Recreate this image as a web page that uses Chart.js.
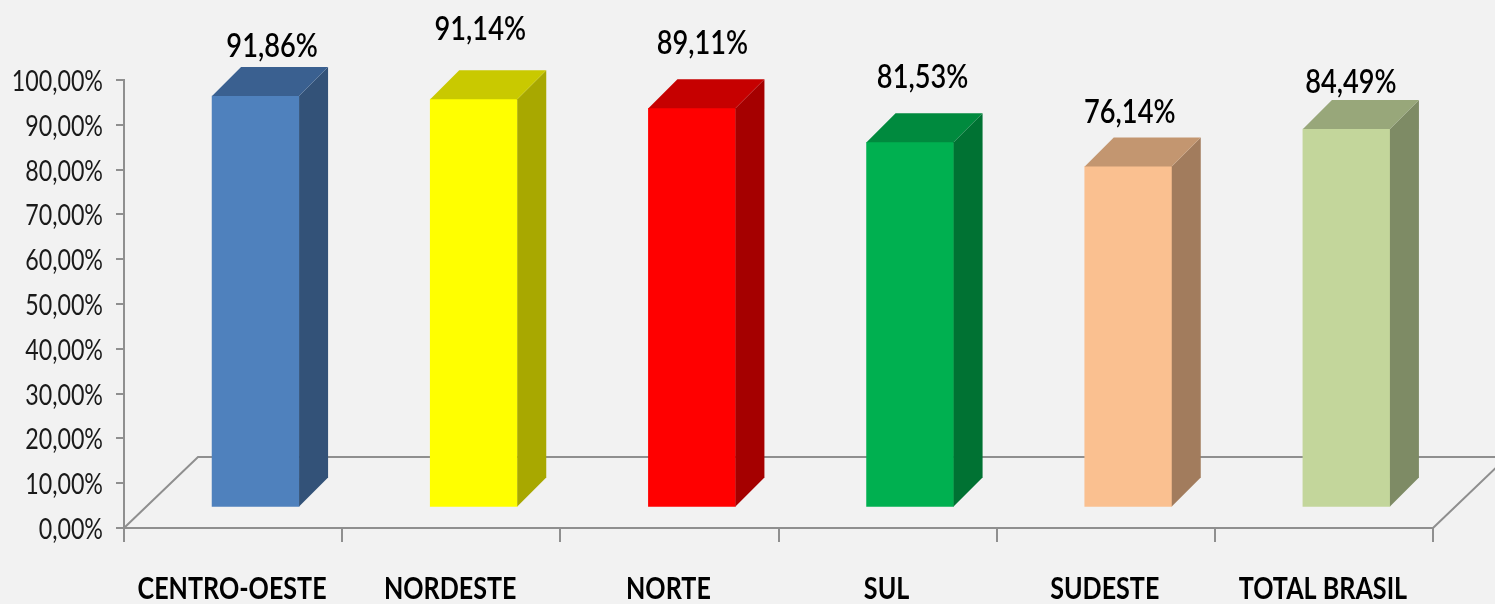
<!DOCTYPE html>
<html>
<head>
<meta charset="utf-8">
<style>
html, body { margin: 0; padding: 0; background: #f2f2f2; overflow: hidden; }
#wrap { position: relative; width: 1495px; height: 604px; }
canvas { filter: blur(0.5px); }
</style>
<script src="https://cdn.jsdelivr.net/npm/chart.js@4"></script>
</head>
<body>
<div id="wrap"><canvas id="chart" width="1495" height="604"></canvas></div>
<script>
const categories = ['CENTRO-OESTE', 'NORDESTE', 'NORTE', 'SUL', 'SUDESTE', 'TOTAL BRASIL'];
const values = [91.86, 91.14, 89.11, 81.53, 76.14, 84.49];
const frontColors = ['#4f81bd', '#ffff00', '#ff0000', '#00b050', '#fac090', '#c3d69b'];
const sideColors = ['#335278', '#a8a800', '#a50000', '#007233', '#a27c5d', '#7e8b65'];
const topColors = ['#3a6090', '#c9c900', '#c60000', '#008a3e', '#c39670', '#98a77a'];

const axisGrey = '#8f8f8f';
// profundidade do efeito 3D
const depth = 29;
// a frente das barras fica deslocada em relacao aos eixos
const frontDx = 22.5;
const frontDy = -20.5;
const floorDx = 74;
const floorDy = -71;
// ajuste manual dos rotulos de valor (nao seguem o topo da barra no original)
const labelNudgeX = [2, -8, -4, -2, -13, -10];
const labelNudgeY = [-20, -41, -36, -36, -25, -17];

function fmt(v) {
    return v.toFixed(2).replace('.', ',') + '%';
}

function poly(ctx, pts, color) {
    ctx.fillStyle = color;
    ctx.beginPath();
    pts.forEach((p, i) => i ? ctx.lineTo(p[0], p[1]) : ctx.moveTo(p[0], p[1]));
    ctx.closePath();
    ctx.fill();
}

// texto mais estreito que a fonte: Calibri esticada no original
function narrowText(ctx, text, x, y, sx, align) {
    ctx.save();
    ctx.translate(x, y);
    ctx.scale(sx, 1);
    ctx.textAlign = align;
    ctx.textBaseline = 'middle';
    ctx.fillText(text, 0, 0);
    ctx.restore();
}

const bars3d = {
    id: 'bars3d',
    beforeDatasetsDraw(chart) {
        const ctx = chart.ctx;
        const a = chart.chartArea;
        // chao
        ctx.save();
        ctx.strokeStyle = axisGrey;
        ctx.lineWidth = 2;
        ctx.beginPath();
        ctx.moveTo(a.left, a.bottom);
        ctx.lineTo(a.left + floorDx, a.bottom + floorDy);
        ctx.lineTo(a.right + floorDx, a.bottom + floorDy);
        ctx.lineTo(a.right, a.bottom);
        ctx.stroke();
        ctx.restore();

        ctx.save();
        ctx.translate(frontDx, frontDy);
    },
    afterDatasetsDraw(chart) {
        const ctx = chart.ctx;
        const meta = chart.getDatasetMeta(0);
        meta.data.forEach((bar, i) => {
            const l = bar.x - bar.width / 2;
            const r = bar.x + bar.width / 2;
            poly(ctx, [[r, bar.y], [r + depth, bar.y - depth], [r + depth, bar.base - depth], [r, bar.base]], sideColors[i]);
            poly(ctx, [[l, bar.y], [l + depth, bar.y - depth], [r + depth, bar.y - depth], [r, bar.y]], topColors[i]);
        });
        ctx.restore();

        // rotulos de valor
        ctx.save();
        ctx.font = '600 32px Lato';
        ctx.fillStyle = '#000';
        meta.data.forEach((bar, i) => {
            const cx = bar.x + frontDx + depth / 2 + labelNudgeX[i];
            const cy = bar.y + frontDy - depth + labelNudgeY[i];
            narrowText(ctx, fmt(values[i]), cx, cy, 0.85, 'center');
        });
        ctx.restore();

        // rotulos dos eixos
        const xs = chart.scales.x;
        const ys = chart.scales.y;
        ctx.save();
        ctx.font = '700 31px Lato';
        ctx.fillStyle = '#000';
        xs.ticks.forEach((t, i) => {
            narrowText(ctx, categories[i], xs.getPixelForTick(i) - 1, 589, 0.81, 'center');
        });
        ctx.font = '400 28px Lato';
        ctx.fillStyle = '#1a1a1a';
        ys.ticks.forEach((t, i) => {
            narrowText(ctx, fmt(t.value), 103, ys.getPixelForTick(i) + 2, 0.83, 'right');
        });
        ctx.restore();
    }
};

new Chart(document.getElementById('chart'), {
    type: 'bar',
    data: {
        labels: categories,
        datasets: [{
            data: values,
            backgroundColor: frontColors,
            borderWidth: 0,
            barThickness: 87,
            clip: false
        }]
    },
    plugins: [bars3d],
    options: {
        responsive: false,
        animation: false,
        layout: { padding: { top: 80, right: 62, bottom: 0, left: 0 } },
        plugins: {
            legend: { display: false },
            tooltip: { enabled: false }
        },
        scales: {
            y: {
                min: 0,
                max: 100,
                afterFit(scale) { scale.width = 124; },
                ticks: { stepSize: 10, display: false },
                grid: { drawOnChartArea: false, color: axisGrey, lineWidth: 2, tickLength: 8 },
                border: { color: axisGrey, width: 2 }
            },
            x: {
                afterFit(scale) { scale.height = 76; },
                ticks: { display: false, autoSkip: false },
                grid: { drawOnChartArea: false, color: axisGrey, lineWidth: 2, tickLength: 14 },
                border: { color: axisGrey, width: 2 }
            }
        }
    }
});
</script>
</body>
</html>
